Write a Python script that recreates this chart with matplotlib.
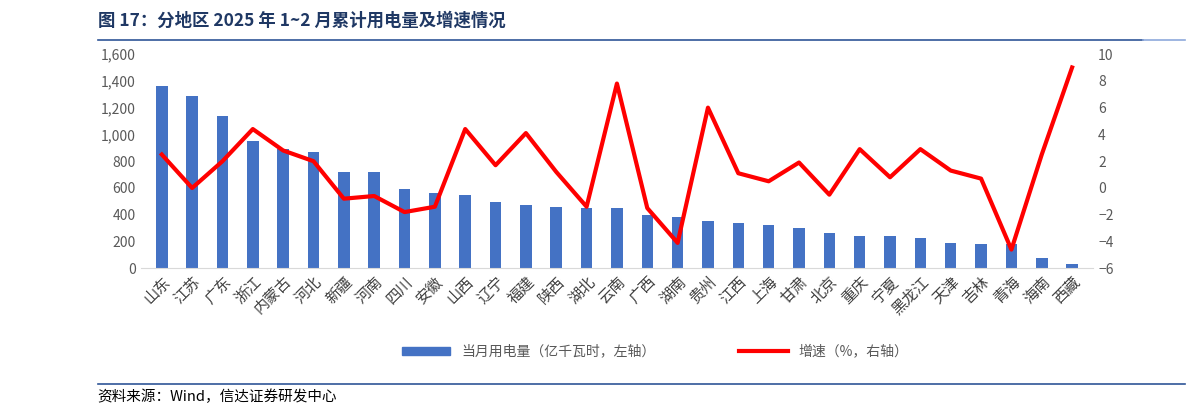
import matplotlib
matplotlib.use("Agg")
import matplotlib.pyplot as plt
from matplotlib.lines import Line2D
from matplotlib.patches import Patch

plt.rcParams['font.family'] = ['Noto Sans CJK SC', 'DejaVu Sans']

regions = ["山东","江苏","广东","浙江","内蒙古","河北","新疆","河南","四川","安徽","山西","辽宁","福建","陕西","湖北","云南","广西","湖南","贵州","江西","上海","甘肃","北京","重庆","宁夏","黑龙江","天津","吉林","青海","海南","西藏"]
usage = [1365,1290,1135,950,890,865,720,720,590,565,545,495,470,455,450,450,395,385,355,335,320,300,265,245,240,230,190,185,180,80,35]
growth = [2.5,0.0,2.0,4.4,2.8,2.0,-0.8,-0.6,-1.8,-1.4,4.4,1.7,4.1,1.2,-1.4,7.8,-1.5,-4.1,6.0,1.1,0.5,1.9,-0.5,2.9,0.8,2.9,1.3,0.7,-4.6,2.5,9.0]

fig = plt.figure(figsize=(11.91, 4.16), dpi=100)
ax = fig.add_axes([0.118, 0.355, 0.8, 0.515])
x = list(range(len(regions)))
ax.bar(x, usage, width=0.38, color='#4472C4', zorder=2)
ax.set_ylim(0, 1600)
ax.set_yticks(range(0, 1601, 200))
ax.set_yticklabels([f"{v:,}" for v in range(0, 1601, 200)])
ax.set_xlim(-0.7, len(regions) - 0.3)
ax.set_xticks(x)
ax.set_xticklabels(regions, rotation=45, ha='right', rotation_mode='anchor')
ax2 = ax.twinx()
ax2.plot(x, growth, color='#FF0000', lw=3, zorder=3)
ax2.set_ylim(-6, 10)
ax2.set_yticks(range(-6, 11, 2))
for a in (ax, ax2):
    for s in a.spines.values():
        s.set_visible(False)
    a.tick_params(length=0, labelsize=10, colors='#595959')
ax.spines['bottom'].set_visible(True)
ax.spines['bottom'].set_color('#D9D9D9')
ax.tick_params(axis='x', labelsize=11, colors='#404040')

fig.text(0.082, 0.95, "图 17：分地区 2025 年 1~2 月累计用电量及增速情况", fontsize=12.5, fontweight='bold', color='#1F3864', va='center')
fig.add_artist(Line2D([0.082, 0.96], [0.905, 0.905], color='#2F5597', lw=1.2))
fig.add_artist(Line2D([0.96, 0.995], [0.905, 0.905], color='#8EA9DB', lw=1.2))
fig.add_artist(Line2D([0.082, 0.995], [0.077, 0.077], color='#2F5597', lw=1.2))
fig.text(0.082, 0.045, "资料来源：Wind，信达证券研发中心", fontsize=10.5, style='italic', va='center')

handles = [Patch(color='#4472C4'), Line2D([], [], color='#FF0000', lw=3)]
fig.legend(handles, ["当月用电量（亿千瓦时，左轴）", "增速（%，右轴）"], loc='center', bbox_to_anchor=(0.55, 0.155),
           ncol=2, frameon=False, fontsize=10, handlelength=3.5, handleheight=0.5, columnspacing=6, labelcolor='#595959')
fig.savefig("out.png", dpi=100)
